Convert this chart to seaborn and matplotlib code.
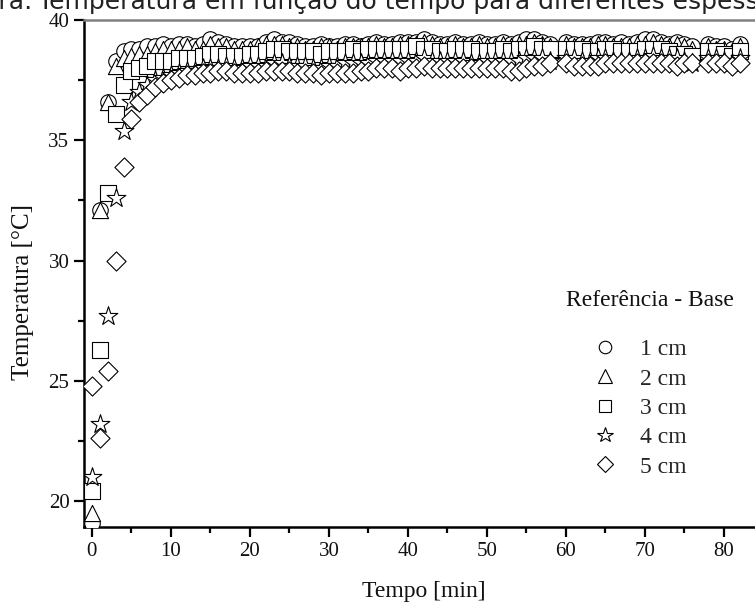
import numpy as np
import pandas as pd
import matplotlib
matplotlib.use("Agg")
import matplotlib.pyplot as plt
from matplotlib.lines import Line2D
from matplotlib.ticker import MultipleLocator
import seaborn as sns

# ---------------- data ----------------
tempo = list(range(0, 59)) + list(range(60, 77)) + list(range(78, 83))

t_1cm = [19.1, 32.1, 36.6, 38.3, 38.7, 38.8, 38.8, 38.9, 38.9, 39.0,
         38.9, 39.0, 39.0, 38.9, 39.0, 39.2, 39.1, 39.0, 38.9, 38.9,
         38.9, 38.9, 39.1, 39.2, 39.1, 39.1, 39.0, 38.9, 38.9, 39.0,
         38.9, 38.9, 39.0, 39.0, 38.9, 39.0, 39.1, 39.0, 39.0, 39.1,
         39.1, 39.1, 39.2, 39.1, 39.0, 39.0, 39.1, 39.0, 39.0, 39.1,
         39.0, 39.0, 39.1, 39.0, 39.1, 39.2, 39.2, 39.1, 39.0,
         39.1, 39.0, 39.0, 39.0, 39.1, 39.1, 39.0, 39.1, 39.0, 39.1,
         39.2, 39.2, 39.1, 39.0, 39.1, 39.0, 38.9,
         39.0, 38.9, 38.9, 38.8, 39.0]

t_2cm = [19.5, 32.1, 36.6, 38.1, 38.4, 38.5, 38.6, 38.6, 38.7, 38.8,
         38.8, 38.8, 38.9, 38.8, 38.8, 39.0, 38.9, 38.9, 38.8, 38.8,
         38.8, 38.9, 39.0, 39.0, 39.0, 38.9, 38.9, 38.8, 38.8, 38.9,
         38.9, 38.8, 38.9, 38.9, 38.9, 38.9, 39.0, 38.9, 38.9, 39.0,
         39.0, 39.0, 39.1, 39.0, 38.9, 38.9, 39.0, 38.9, 38.9, 39.0,
         38.9, 38.9, 39.0, 38.9, 39.0, 39.0, 39.1, 39.0, 38.9,
         39.0, 38.9, 38.9, 38.9, 39.0, 39.0, 38.9, 38.9, 38.9, 39.0,
         39.0, 39.1, 39.0, 38.9, 39.0, 38.9, 38.8,
         38.9, 38.8, 38.8, 38.7, 38.9]

t_3cm = [20.4, 26.3, 32.8, 36.1, 37.3, 37.9, 38.0, 38.1, 38.3, 38.3,
         38.3, 38.4, 38.4, 38.4, 38.5, 38.6, 38.6, 38.5, 38.5, 38.5,
         38.6, 38.6, 38.7, 38.8, 38.8, 38.7, 38.7, 38.7, 38.7, 38.6,
         38.7, 38.7, 38.7, 38.8, 38.7, 38.8, 38.8, 38.8, 38.8, 38.8,
         38.8, 38.9, 38.8, 38.8, 38.7, 38.7, 38.8, 38.8, 38.8, 38.7,
         38.7, 38.7, 38.8, 38.7, 38.8, 38.8, 38.9, 38.8, 38.8,
         38.8, 38.8, 38.8, 38.7, 38.7, 38.8, 38.8, 38.7, 38.7, 38.7,
         38.8, 38.8, 38.8, 38.7, 38.6, 38.6, 38.5,
         38.7, 38.7, 38.6, 38.5, 38.7]

t_4cm = [21.0, 23.2, 27.7, 32.6, 35.4, 36.6, 37.0, 37.3, 37.5, 37.6,
         37.7, 37.8, 37.9, 37.9, 38.0, 38.0, 38.0, 38.1, 38.0, 38.0,
         38.1, 38.1, 38.1, 38.2, 38.2, 38.1, 38.1, 38.1, 38.0, 38.0,
         38.1, 38.1, 38.2, 38.2, 38.2, 38.2, 38.3, 38.3, 38.3, 38.3,
         38.3, 38.3, 38.4, 38.3, 38.3, 38.3, 38.3, 38.3, 38.2, 38.2,
         38.3, 38.3, 38.3, 38.3, 38.3, 38.4, 38.4, 38.4, 38.3,
         38.4, 38.4, 38.3, 38.3, 38.4, 38.4, 38.3, 38.3, 38.3, 38.4,
         38.4, 38.5, 38.4, 38.4, 38.4, 38.3, 38.2,
         38.4, 38.4, 38.3, 38.2, 38.4]

t_5cm = [24.8, 22.6, 25.4, 30.0, 33.9, 35.9, 36.6, 36.9, 37.2, 37.4,
         37.5, 37.6, 37.7, 37.7, 37.8, 37.8, 37.9, 37.9, 37.8, 37.8,
         37.8, 37.8, 37.9, 37.9, 37.9, 37.9, 37.8, 37.8, 37.8, 37.7,
         37.8, 37.8, 37.8, 37.8, 37.9, 37.9, 38.0, 38.0, 38.0, 37.9,
         38.0, 38.0, 38.1, 38.0, 38.0, 38.0, 38.0, 38.0, 38.0, 38.0,
         38.0, 38.0, 38.0, 37.9, 37.9, 38.0, 38.1, 38.1, 38.2,
         38.2, 38.1, 38.1, 38.1, 38.1, 38.2, 38.2, 38.2, 38.2, 38.2,
         38.2, 38.2, 38.2, 38.2, 38.1, 38.2, 38.2,
         38.2, 38.2, 38.2, 38.1, 38.2]

series_labels = ["1 cm", "2 cm", "3 cm", "4 cm", "5 cm"]
series_values = [t_1cm, t_2cm, t_3cm, t_4cm, t_5cm]
legend_title = "Referência - Base"
marker_map = {"1 cm": "o", "2 cm": "^", "3 cm": "s", "4 cm": "*", "5 cm": "D"}
size_map = {"1 cm": 125, "2 cm": 135, "3 cm": 120, "4 cm": 200, "5 cm": 95}
leg_size = {"1 cm": 9, "2 cm": 9.5, "3 cm": 8.3, "4 cm": 11.5, "5 cm": 8}

x_ticks = [0, 10, 20, 30, 40, 50, 60, 70, 80]
y_ticks = [20, 25, 30, 35, 40]

# ---------------- figure ----------------
sns.set_theme(style="white")
plt.rcParams["font.family"] = ["Liberation Serif", "DejaVu Serif"]

fig = plt.figure(figsize=(7.55, 6.02), dpi=100)
AX_L, AX_R, AX_T, AX_B = 84, 763.5, 20, 527
ax = fig.add_axes([AX_L / 755, (602 - AX_B) / 602,
                   (AX_R - AX_L) / 755, (AX_B - AX_T) / 602])
AW, AH = AX_R - AX_L, AX_B - AX_T

for lab, vals in zip(series_labels, series_values):
    df = pd.DataFrame({"Tempo": tempo, "Temp": vals})
    sns.scatterplot(data=df, x="Tempo", y="Temp", ax=ax,
                    marker=marker_map[lab], s=size_map[lab],
                    facecolor="white", edgecolor="black",
                    linewidth=0.8, legend=False, zorder=3)

ax.set_xlim(-1, 85)
ax.set_ylim(18.92, 40)
ax.set_xticks(x_ticks)
ax.set_yticks(y_ticks)
ax.xaxis.set_minor_locator(MultipleLocator(5))
ax.yaxis.set_minor_locator(MultipleLocator(2.5))
ax.tick_params(axis="both", which="major", direction="out", length=7,
               width=1.6, color="black", labelsize=15, labelcolor="#111111",
               bottom=True, left=True, top=False, right=False)
ax.tick_params(axis="both", which="minor", direction="out", length=4,
               width=1.6, color="black", bottom=True, left=True,
               top=False, right=False)

for side in ["left", "bottom"]:
    ax.spines[side].set_color("black")
    ax.spines[side].set_linewidth(1.8)
ax.spines["top"].set_color("#808080")
ax.spines["top"].set_linewidth(1.8)
ax.spines["right"].set_visible(False)

ax.set_xlabel("Tempo [min]", fontsize=17, color="#111111")
ax.set_ylabel("Temperatura [°C]", fontsize=18, color="#111111")
ax.xaxis.set_label_coords((424 - AX_L) / AW, -(591 - AX_B) / AH)
ax.yaxis.set_label_coords(-(AX_L - 23) / AW, (AX_B - 292) / AH)
ax.xaxis.label.set_va("center")
ax.yaxis.label.set_va("center")

handles = [Line2D([], [], linestyle="none", marker=marker_map[l],
                  markersize=leg_size[l],
                  markerfacecolor="white", markeredgecolor="black",
                  markeredgewidth=0.8) for l in series_labels]
leg = ax.legend(handles, series_labels,
                loc="upper left",
                bbox_to_anchor=((574 - AX_L) / AW, (AX_B - 320) / AH),
                frameon=False, fontsize=17, handlelength=1.0,
                handletextpad=1.0, labelspacing=0.33, borderpad=0.3)
ax.text((650 - AX_L) / AW, (AX_B - 301) / AH, legend_title,
        transform=ax.transAxes, ha="center", va="center",
        fontsize=17, color="#111111")

fig.text(33 / 755, 1 - 8.5 / 602, "Figura:", ha="right", va="baseline",
         fontsize=18, family="DejaVu Sans", color="#222222")
fig.text(38 / 755, 1 - 8.5 / 602,
         "Temperatura em função do tempo para diferentes espessuras",
         ha="left", va="baseline", fontsize=18, family="DejaVu Sans",
         color="#222222")

fig.savefig("out.png", dpi=100)
